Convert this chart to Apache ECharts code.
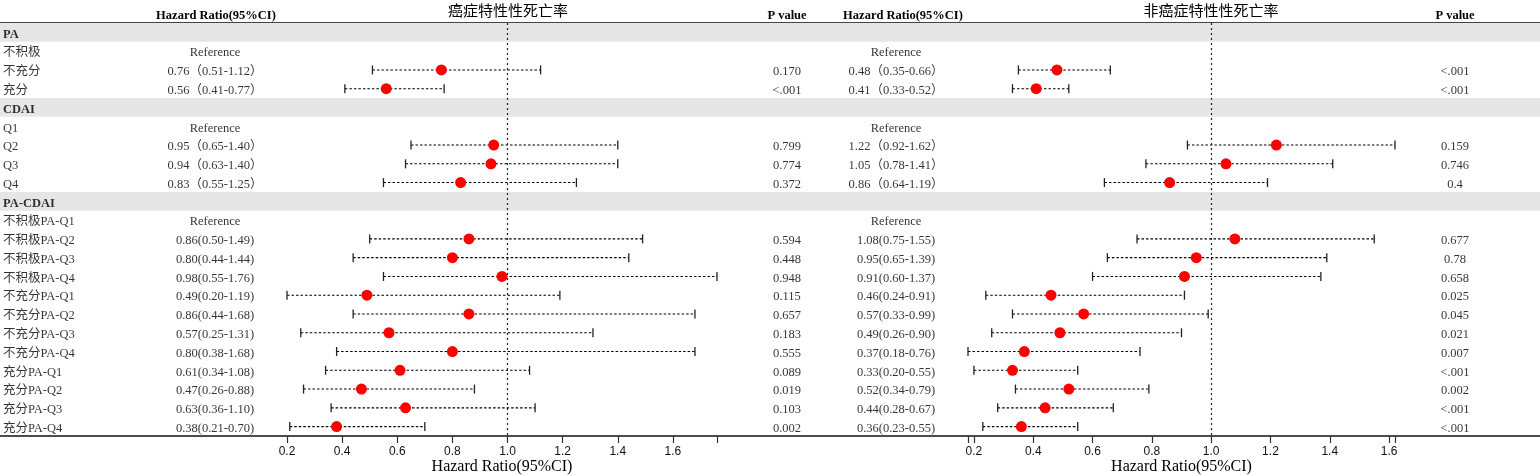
<!DOCTYPE html>
<html><head><meta charset="utf-8">
<script src="https://cdn.jsdelivr.net/npm/echarts@6/dist/echarts.min.js"></script>
<style>html,body{margin:0;padding:0;background:#fff}#c{width:1540px;height:476px}</style>
</head><body><div id="c"></div>
<script>
// ---------- data ----------
const rowLabels = ['PA','不积极','不充分','充分','CDAI','Q1','Q2','Q3','Q4','PA-CDAI',
  '不积极PA-Q1','不积极PA-Q2','不积极PA-Q3','不积极PA-Q4',
  '不充分PA-Q1','不充分PA-Q2','不充分PA-Q3','不充分PA-Q4',
  '充分PA-Q1','充分PA-Q2','充分PA-Q3','充分PA-Q4'];
const headerRows = ['PA','CDAI','PA-CDAI'];

const cancerHR   = [null,null,0.76,0.56,null,null,0.95,0.94,0.83,null,null,0.86,0.80,0.98,0.49,0.86,0.57,0.80,0.61,0.47,0.63,0.38];
const cancerLow  = [null,null,0.51,0.41,null,null,0.65,0.63,0.55,null,null,0.50,0.44,0.55,0.20,0.44,0.25,0.38,0.34,0.26,0.36,0.21];
const cancerHigh = [null,null,1.12,0.77,null,null,1.40,1.40,1.25,null,null,1.49,1.44,1.76,1.19,1.68,1.31,1.68,1.08,0.88,1.10,0.70];
const cancerText = ['','Reference','0.76（0.51-1.12）','0.56（0.41-0.77）','','Reference','0.95（0.65-1.40）','0.94（0.63-1.40）','0.83（0.55-1.25）','',
  'Reference','0.86(0.50-1.49)','0.80(0.44-1.44)','0.98(0.55-1.76)','0.49(0.20-1.19)','0.86(0.44-1.68)','0.57(0.25-1.31)','0.80(0.38-1.68)',
  '0.61(0.34-1.08)','0.47(0.26-0.88)','0.63(0.36-1.10)','0.38(0.21-0.70)'];
const cancerP = ['','','0.170','<.001','','','0.799','0.774','0.372','','','0.594','0.448','0.948','0.115','0.657','0.183','0.555','0.089','0.019','0.103','0.002'];

const noncHR   = [null,null,0.48,0.41,null,null,1.22,1.05,0.86,null,null,1.08,0.95,0.91,0.46,0.57,0.49,0.37,0.33,0.52,0.44,0.36];
const noncLow  = [null,null,0.35,0.33,null,null,0.92,0.78,0.64,null,null,0.75,0.65,0.60,0.24,0.33,0.26,0.18,0.20,0.34,0.28,0.23];
const noncHigh = [null,null,0.66,0.52,null,null,1.62,1.41,1.19,null,null,1.55,1.39,1.37,0.91,0.99,0.90,0.76,0.55,0.79,0.67,0.55];
const noncText = ['','Reference','0.48（0.35-0.66）','0.41（0.33-0.52）','','Reference','1.22（0.92-1.62）','1.05（0.78-1.41）','0.86（0.64-1.19）','',
  'Reference','1.08(0.75-1.55)','0.95(0.65-1.39)','0.91(0.60-1.37)','0.46(0.24-0.91)','0.57(0.33-0.99)','0.49(0.26-0.90)','0.37(0.18-0.76)',
  '0.33(0.20-0.55)','0.52(0.34-0.79)','0.44(0.28-0.67)','0.36(0.23-0.55)'];
const noncP = ['','','<.001','<.001','','','0.159','0.746','0.4','','','0.677','0.78','0.658','0.025','0.045','0.021','0.007','<.001','0.002','<.001','<.001'];

const tickLabels = [0.2,0.4,0.6,0.8,1.0,1.2,1.4,1.6];
const leftRange = [0.2, 1.76];
const rightRange = [0.18, 1.62];
const titleLeft = '癌症特性性死亡率';
const titleRight = '非癌症特性性死亡率';
const hrHeader = 'Hazard Ratio(95%CI)';
const pHeader = 'P value';
const axisName = 'Hazard Ratio(95%CI)';

// ---------- layout ----------
const SERIF = "'Liberation Serif','Noto Sans CJK SC',serif";
const SANS = "'Liberation Sans',Arial,sans-serif";
const CJK = "'Noto Sans CJK SC',sans-serif";
const TOP = 23, BOTTOM = 40;
const col = { lab: 3, hrL: 215, pL: 787, hrR: 896, pR: 1455 };

function errData(hr, lo, hi) {
  const d = [];
  rowLabels.forEach((r, i) => { if (hr[i] != null) d.push([r, hr[i], lo[i], hi[i]]); });
  return d;
}
function dotData(hr) {
  const d = [];
  rowLabels.forEach((r, i) => { if (hr[i] != null) d.push([hr[i], r]); });
  return d;
}
function textData(x, arr) {
  const d = [];
  rowLabels.forEach((r, i) => { if (arr[i]) d.push([x, r, arr[i]]); });
  return d;
}
function errRender(params, api) {
  const y = api.value(0);
  const p1 = api.coord([api.value(2), y]);
  const p2 = api.coord([api.value(3), y]);
  const h = 4.5;
  return { type: 'group', children: [
    { type: 'line', shape: { x1: p1[0], y1: p1[1], x2: p2[0], y2: p2[1] }, style: { stroke: '#000', lineWidth: 1.1, lineDash: [2.5, 2] } },
    { type: 'line', shape: { x1: p1[0], y1: p1[1] - h, x2: p1[0], y2: p1[1] + h }, style: { stroke: '#222', lineWidth: 1.3 } },
    { type: 'line', shape: { x1: p2[0], y1: p2[1] - h, x2: p2[0], y2: p2[1] + h }, style: { stroke: '#222', lineWidth: 1.3 } }
  ]};
}
function plotXAxis(gi, range) {
  const tickVals = [range[0]].concat(tickLabels.filter(v => v > range[0] && v < range[1])).concat([range[1]]);
  return {
    type: 'value', gridIndex: gi, min: range[0], max: range[1], position: 'bottom',
    axisLine: { show: false }, splitLine: { show: false },
    axisTick: { show: true, length: 7, lineStyle: { color: '#333', width: 1.2 }, customValues: tickVals },
    axisLabel: { color: '#111', fontFamily: SANS, fontSize: 12, margin: 10, customValues: tickLabels,
      formatter: v => v.toFixed(1) },
    name: axisName, nameLocation: 'middle', nameGap: 23, nameMoveOverlap: false,
    nameTextStyle: { fontFamily: SERIF, fontSize: 16, color: '#000' }
  };
}
function catY(gi) {
  return {
    type: 'category', gridIndex: gi, data: rowLabels, inverse: true,
    axisLine: { show: false }, axisTick: { show: false }, splitLine: { show: false }, axisLabel: { show: false }
  };
}
function textSeries(x, arr, size, align) {
  return {
    type: 'scatter', xAxisIndex: 0, yAxisIndex: 0, data: textData(x, arr), symbolSize: 1,
    itemStyle: { color: 'transparent' }, silent: true, z: 3,
    label: { show: true, position: 'inside', offset: [0, 2], color: '#000', fontFamily: SERIF, fontSize: size,
      align: align || 'center',
      formatter: p => headerRows.includes(p.value[2]) && align === 'left' ? '{b|' + p.value[2] + '}' : p.value[2],
      rich: { b: { fontWeight: 'bold', fontFamily: SERIF, fontSize: 12.5, color: '#000' } } }
  };
}
function hdrTitle(text, x, bold, font, size, top) {
  return { text, left: x, top, textAlign: 'center', padding: 0,
    textStyle: { fontFamily: font, fontSize: size, fontWeight: bold ? 'bold' : 'normal', color: '#000' } };
}

const chart = echarts.init(document.getElementById('c'), null, { renderer: 'canvas' });
chart.setOption({
  animation: false,
  backgroundColor: '#fff',
  title: [
    hdrTitle(titleLeft, 508, false, CJK, 15, 3),
    hdrTitle(titleRight, 1211, false, CJK, 15, 3),
    hdrTitle(hrHeader, 216, true, SERIF, 12.5, 10),
    hdrTitle(pHeader, col.pL, true, SERIF, 12.5, 10),
    hdrTitle(hrHeader, 903, true, SERIF, 12.5, 10),
    hdrTitle(pHeader, col.pR, true, SERIF, 12.5, 10)
  ],
  grid: [
    { left: 0, right: 0, top: TOP, bottom: BOTTOM, outerBoundsMode: 'none', containLabel: false },
    { left: 287, width: 430, top: TOP, bottom: BOTTOM, outerBoundsMode: 'none', containLabel: false },
    { left: 968, width: 427, top: TOP, bottom: BOTTOM, outerBoundsMode: 'none', containLabel: false }
  ],
  xAxis: [
    { type: 'value', gridIndex: 0, min: 0, max: 1540, position: 'bottom',
      axisLine: { show: true, onZero: false, lineStyle: { color: '#111', width: 1.6 } },
      axisTick: { show: false }, axisLabel: { show: false }, splitLine: { show: false } },
    { type: 'value', gridIndex: 0, min: 0, max: 1540, position: 'top',
      axisLine: { show: true, onZero: false, lineStyle: { color: '#444', width: 2 } },
      axisTick: { show: false }, axisLabel: { show: false }, splitLine: { show: false } },
    plotXAxis(1, leftRange),
    plotXAxis(2, rightRange)
  ],
  yAxis: [catY(0), catY(1), catY(2)],
  series: [
    { type: 'bar', xAxisIndex: 0, yAxisIndex: 0, barWidth: '100%', barCategoryGap: 0, silent: true, z: 1,
      itemStyle: { color: '#e6e6e6' },
      data: rowLabels.map(r => headerRows.includes(r) ? 1540 : '-') },
    textSeries(col.lab, rowLabels, 12.5, 'left'),
    textSeries(col.hrL, cancerText, 12.5),
    textSeries(col.pL, cancerP, 12.5),
    textSeries(col.hrR, noncText, 12.5),
    textSeries(col.pR, noncP, 12.5),
    { type: 'custom', xAxisIndex: 2, yAxisIndex: 1, renderItem: errRender, z: 4, silent: true,
      encode: { y: 0, x: [1, 2, 3] }, data: errData(cancerHR, cancerLow, cancerHigh),
      markLine: { silent: true, symbol: 'none', label: { show: false }, animation: false,
        lineStyle: { color: '#222', width: 1.2, type: [2, 3] }, data: [{ xAxis: 1 }] } },
    { type: 'scatter', xAxisIndex: 2, yAxisIndex: 1, data: dotData(cancerHR), symbolSize: 11, z: 5,
      itemStyle: { color: '#ff0000', opacity: 1 } },
    { type: 'custom', xAxisIndex: 3, yAxisIndex: 2, renderItem: errRender, z: 4, silent: true,
      encode: { y: 0, x: [1, 2, 3] }, data: errData(noncHR, noncLow, noncHigh),
      markLine: { silent: true, symbol: 'none', label: { show: false }, animation: false,
        lineStyle: { color: '#222', width: 1.2, type: [2, 3] }, data: [{ xAxis: 1 }] } },
    { type: 'scatter', xAxisIndex: 3, yAxisIndex: 2, data: dotData(noncHR), symbolSize: 11, z: 5,
      itemStyle: { color: '#ff0000', opacity: 1 } }
  ]
});
</script>
</body></html>
